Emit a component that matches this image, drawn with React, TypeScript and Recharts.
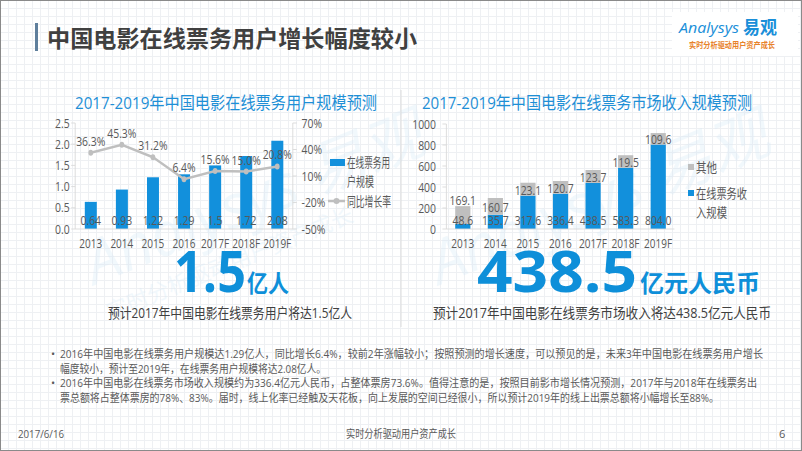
import React from 'react';
import { ComposedChart, BarChart, Bar, Line, XAxis, YAxis, LabelList } from 'recharts';

const years = ['2013', '2014', '2015', '2016', '2017F', '2018F', '2019F'];
const users = [0.64, 0.93, 1.22, 1.29, 1.5, 1.72, 2.08];
const growth = [36.3, 45.3, 31.2, 6.4, 15.6, 15.0, 20.8];
const online = [48.6, 135.7, 317.6, 336.4, 438.5, 583.3, 804.0];
const others = [169.1, 160.7, 123.1, 120.7, 123.7, 119.5, 109.6];
const userTicks = [0, 0.5, 1, 1.5, 2, 2.5];
const growthTicks = [-50, -20, 10, 40, 70];
const revenueTicks = [0, 200, 400, 600, 800, 1000];

const bullet1 = [
  '2016年中国电影在线票务用户规模达1.29亿人，同比增长6.4%，较前2年涨幅较小；按照预测的增长速度，可以预见的是，未来3年中国电影在线票务用户增长',
  '幅度较小，预计至2019年，在线票务用户规模将达2.08亿人。',
];
const bullet2 = [
  '2016年中国电影在线票务市场收入规模约为336.4亿元人民币，占整体票房73.6%。值得注意的是，按照目前影市增长情况预测，2017年与2018年在线票务出',
  '票总额将占整体票房的78%、83%。届时，线上化率已经触及天花板，向上发展的空间已经很小，所以预计2019年的线上出票总额将小幅增长至88%。',
];

const userRows = years.map((y, i) => ({ year: y, users: users[i], growth: growth[i] }));
const revRows = years.map((y, i) => ({ year: y, online: online[i], other: others[i] }));

const FONT = '"Open Sans","Noto Sans CJK SC",sans-serif';
const BLUE = '#1290dc';
const GRAY = '#bfbfbf';
const TXT = '#595959';
const AXIS = '#d9d9d9';
const K = 0.8; // horizontal squeeze of the pasted chart images
const FS = 13;
const RIGHT_PLOT_BOTTOM = 115;

const T = ({ x, y, w, size, fill = TXT, weight = 400, children, anchor = 'start' }: any) => (
  <text
    x={x}
    y={y}
    fontSize={size}
    fill={fill}
    fontWeight={weight}
    textAnchor={anchor}
    dominantBaseline="central"
    fontFamily={FONT}
    {...(w ? { textLength: w, lengthAdjust: 'spacingAndGlyphs' } : {})}
  >
    {children}
  </text>
);

const OtherLabel = (props: any) => {
  const vb = props.viewBox && props.viewBox.width !== undefined ? props.viewBox : props;
  const x = Number(vb.x);
  const y = Number(vb.y);
  const width = Number(vb.width);
  const height = Number(vb.height);
  const top = Math.min(y, y + height);
  const bottom = Math.max(y, y + height);
  const cy = bottom > RIGHT_PLOT_BOTTOM - 10 ? top - 7 : (top + bottom) / 2;
  const v = Number(props.value);
  return (
    <text x={x + width / 2} y={cy} textAnchor="middle" dominantBaseline="central" fontSize={FS} fill={TXT}>
      {v.toFixed(1)}
    </text>
  );
};

const tick = { fontSize: FS, fill: TXT };
const xTick = { fontSize: 12.5, fill: TXT };

export default function App() {
  return (
    <div
      style={{
        position: 'fixed',
        left: 0,
        top: 0,
        width: 802,
        height: 451,
        overflow: 'hidden',
        backgroundColor: '#ffffff',
        backgroundImage:
          'linear-gradient(#eef0f3 1px, transparent 1px), linear-gradient(90deg, #eef0f3 1px, transparent 1px)',
        backgroundSize: '8px 8px',
        fontFamily: FONT,
      }}
    >
      <svg width={802} height={451} style={{ position: 'absolute', left: 0, top: 0 }}>
        {/* watermarks */}
        <g opacity={0.3}>
          <text x={95} y={285} transform="rotate(-22 95 285)" fontSize={60} fontStyle="italic" fill="#d4e9f7" fontFamily={FONT}>
            Analysys 易观
          </text>
          <text x={110} y={320} transform="rotate(-22 110 320)" fontSize={22} fill="#d4e9f7" fontFamily={FONT}>
            实时分析驱动用户资产成长
          </text>
          <text x={440} y={285} transform="rotate(-22 440 285)" fontSize={60} fontStyle="italic" fill="#d4e9f7" fontFamily={FONT}>
            Analysys 易观
          </text>
        </g>
        {/* logo box */}
        <rect x={672} y={12} width={126} height={44} fill="#ffffff" />
        <text x={679} y={33} fontSize={14} fontStyle="italic" fill="#1a8fd9" fontFamily={FONT} textLength={60} lengthAdjust="spacingAndGlyphs">
          Analysys
        </text>
        <text x={743} y={34} fontSize={18} fontWeight={700} fill="#1a8fd9" fontFamily={FONT} textLength={34} lengthAdjust="spacingAndGlyphs">
          易观
        </text>
        <T x={689} y={44} w={86} size={8} fill="#e8822a" weight={700}>
          实时分析驱动用户资产成长
        </T>
        {/* title */}
        <rect x={35} y={23} width={3} height={28} fill="#5f7f9c" />
        <T x={47} y={38} w={370} size={23} fill="#404040" weight={700}>
          中国电影在线票务用户增长幅度较小
        </T>
        {/* chart titles */}
        <T x={75} y={102} w={302} size={17} fill="#1e8fd6">
          2017-2019年中国电影在线票务用户规模预测
        </T>
        <T x={422} y={102} w={330} size={17} fill="#1e8fd6">
          2017-2019年中国电影在线票务市场收入规模预测
        </T>
        {/* divider */}
        <line x1={401} y1={90} x2={401} y2={327} stroke="#dcdcdc" strokeWidth={1} />
        {/* left legend */}
        <rect x={330} y={159} width={15} height={7} fill={BLUE} />
        <T x={347} y={162} w={43} size={13}>在线票务用</T>
        <T x={347} y={181} w={27} size={13}>户规模</T>
        <line x1={328} y1={201} x2={345} y2={201} stroke={GRAY} strokeWidth={2.5} />
        <circle cx={336.5} cy={201} r={3} fill={GRAY} />
        <T x={347} y={201} w={44} size={13}>同比增长率</T>
        {/* right legend */}
        <rect x={688} y={164} width={6} height={6} fill={GRAY} />
        <T x={696} y={167} w={21} size={13}>其他</T>
        <rect x={688} y={190} width={6} height={6} fill={BLUE} />
        <T x={696} y={193} w={51} size={13}>在线票务收</T>
        <T x={696} y={212} w={31} size={13}>入规模</T>
        {/* big numbers */}
        <text x={174} y={292} fontSize={58} fontWeight={700} fill="#0e8fd9" fontFamily={FONT} textLength={72} lengthAdjust="spacingAndGlyphs">
          1.5
        </text>
        <text x={247} y={292} fontSize={24} fontWeight={700} fill="#0e8fd9" fontFamily={FONT} textLength={42} lengthAdjust="spacingAndGlyphs">
          亿人
        </text>
        <text x={477} y={292} fontSize={58} fontWeight={700} fill="#0e8fd9" fontFamily={FONT} textLength={160} lengthAdjust="spacingAndGlyphs">
          438.5
        </text>
        <text x={640} y={292} fontSize={24} fontWeight={700} fill="#0e8fd9" fontFamily={FONT} textLength={120} lengthAdjust="spacingAndGlyphs">
          亿元人民币
        </text>
        {/* captions */}
        <T x={108} y={312} w={244} size={14} fill="#404040">
          预计2017年中国电影在线票务用户将达1.5亿人
        </T>
        <T x={433} y={312} w={338} size={14} fill="#404040">
          预计2017年中国电影在线票务市场收入将达438.5亿元人民币
        </T>
        {/* bullets */}
        <T x={51} y={353} size={11}>•</T>
        <T x={60} y={353} w={703} size={11}>{bullet1[0]}</T>
        <T x={60} y={368} w={266} size={11}>{bullet1[1]}</T>
        <T x={51} y={382} size={11}>•</T>
        <T x={60} y={382} w={697} size={11}>{bullet2[0]}</T>
        <T x={60} y={397} w={659} size={11}>{bullet2[1]}</T>
        {/* footer */}
        <T x={18} y={433} w={46} size={11}>2017/6/16</T>
        <T x={346} y={433} w={110} size={11}>实时分析驱动用户资产成长</T>
        <T x={779} y={433} size={11}>6</T>
      </svg>

      <div style={{ position: 'absolute', left: 20, top: 113, transform: `scaleX(${K})`, transformOrigin: '0 0' }}>
        <ComposedChart width={475} height={148} data={userRows} margin={{ top: 10, right: 84, left: 0, bottom: 12 }}>
          <XAxis dataKey="year" height={20} tick={xTick} axisLine={{ stroke: AXIS }} tickLine={false} tickMargin={4} interval={0} />
          <YAxis
            yAxisId="l"
            width={69}
            domain={[0, 2.5]}
            ticks={userTicks}
            interval={0}
            tickFormatter={(v: number) => v.toFixed(1)}
            tick={tick}
            axisLine={{ stroke: AXIS }}
            tickLine={{ stroke: AXIS }}
            tickSize={5}
            tickMargin={2}
          />
          <YAxis
            yAxisId="r"
            orientation="right"
            width={50}
            domain={[-50, 70]}
            ticks={growthTicks}
            interval={0}
            tickFormatter={(v: number) => `${v}%`}
            tick={tick}
            axisLine={{ stroke: AXIS }}
            tickLine={{ stroke: AXIS }}
            tickSize={5}
            tickMargin={6}
          />
          <Bar yAxisId="l" dataKey="users" fill={BLUE} barSize={15} isAnimationActive={false}>
            <LabelList dataKey="users" position="insideBottom" offset={4} fontSize={FS} fill={TXT} formatter={(v: any) => String(v)} />
          </Bar>
          <Line
            yAxisId="r"
            dataKey="growth"
            stroke={GRAY}
            strokeWidth={2.5}
            dot={{ r: 3, fill: GRAY, stroke: GRAY, strokeWidth: 0 }}
            isAnimationActive={false}
          >
            <LabelList dataKey="growth" position="top" offset={7} fontSize={FS} fill={TXT} formatter={(v: any) => `${Number(v).toFixed(1)}%`} />
          </Line>
        </ComposedChart>
      </div>

      <div style={{ position: 'absolute', left: 400, top: 114, transform: `scaleX(${K})`, transformOrigin: '0 0' }}>
        <BarChart width={500} height={148} data={revRows} margin={{ top: 10, right: 157, left: 0, bottom: 13 }}>
          <XAxis dataKey="year" height={20} tick={xTick} axisLine={{ stroke: AXIS }} tickLine={false} tickMargin={4} interval={0} />
          <YAxis
            width={58}
            domain={[0, 1000]}
            ticks={revenueTicks}
            interval={0}
            tick={tick}
            axisLine={{ stroke: AXIS }}
            tickLine={{ stroke: AXIS }}
            tickSize={5}
            tickMargin={8}
          />
          <Bar dataKey="online" stackId="a" fill={BLUE} barSize={19} isAnimationActive={false}>
            <LabelList dataKey="online" position="insideBottom" offset={4} fontSize={FS} fill={TXT} formatter={(v: any) => Number(v).toFixed(1)} />
          </Bar>
          <Bar dataKey="other" stackId="a" fill={GRAY} barSize={19} isAnimationActive={false}>
            <LabelList dataKey="other" content={<OtherLabel />} />
          </Bar>
        </BarChart>
      </div>

      <div style={{ position: 'absolute', left: 0, top: 0, width: 802, height: 451, boxSizing: 'border-box', border: '1px solid #8a8a8a', pointerEvents: 'none' }} />
    </div>
  );
}
